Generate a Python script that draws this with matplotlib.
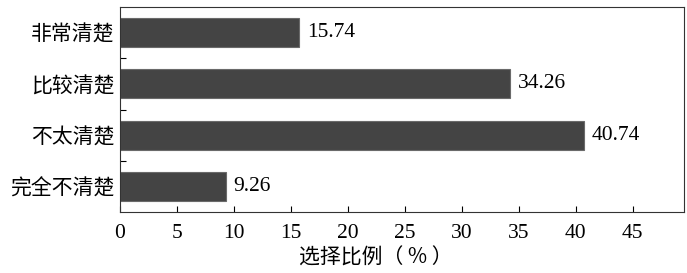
import matplotlib.pyplot as plt
import numpy as np

# 数据
categories = ["完全不清楚", "不太清楚", "比较清楚", "非常清楚"]
values = [9.26, 40.74, 34.26, 15.74]
xticks = [0, 5, 10, 15, 20, 25, 30, 35, 40, 45]

plt.rcParams['font.family'] = ['Liberation Serif', 'Noto Sans CJK SC']

fig = plt.figure(figsize=(6.87, 2.73), dpi=100)
ax = fig.add_axes([120 / 687, 1 - 212 / 273, 564 / 687, 205 / 273])

y = np.arange(len(categories))
ax.barh(y, values, height=0.57, color='#444444', edgecolor='#6a6a6a', linewidth=0.8)

for yi, v in zip(y, values):
    ax.text(v + 0.65, yi, f"{v:.2f}", va='center', ha='left', fontsize=15.5)

ax.set_xlim(0, 49.5)
ax.set_ylim(-0.5, 3.5)
ax.set_xticks(xticks)
ax.set_xticklabels([str(t) for t in xticks], fontsize=15.5)

# 类别标签放在柱子中间，刻度线放在分界处
ax.set_yticks(y)
ax.set_yticklabels(categories, fontsize=15, family=['Noto Sans CJK SC'], fontweight='light')
ax.tick_params(axis='y', length=0, pad=4)
ax.set_yticks([0.5, 1.5, 2.5], minor=True)
ax.tick_params(axis='y', which='minor', direction='in', length=4, width=0.8)
ax.tick_params(axis='x', direction='in', length=4, width=0.8, pad=9)

for s in ax.spines.values():
    s.set_linewidth(0.8)
    s.set_color('#333333')

ax.set_xlabel("选择比例（ % ）", fontsize=15, family=['Noto Sans CJK SC', 'DejaVu Sans'],
              fontweight='light')
ax.xaxis.set_label_coords(0.454, -0.17)

plt.savefig("out.png", dpi=100)
